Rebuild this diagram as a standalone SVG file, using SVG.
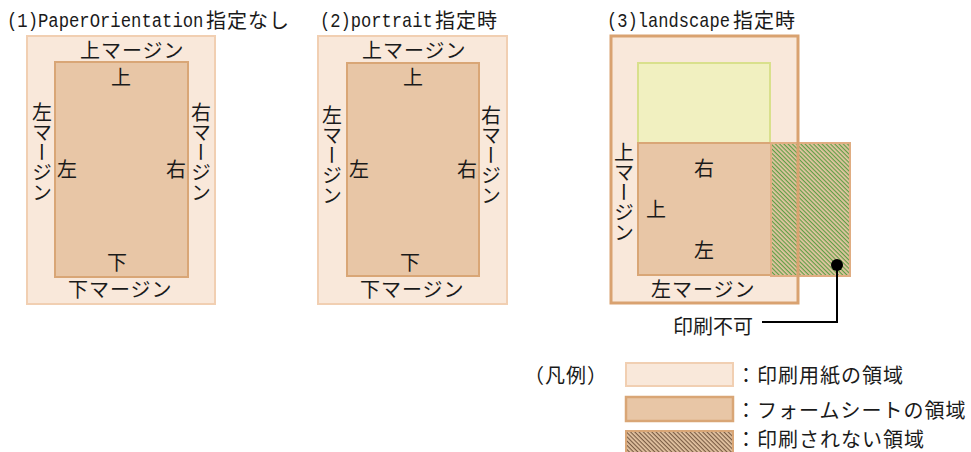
<svg xmlns="http://www.w3.org/2000/svg" width="971" height="452" viewBox="0 0 971 452">
<style>
.t{font-family:"Noto Sans CJK JP","Noto Sans",sans-serif;font-size:20px;letter-spacing:1px;fill:#1a1a1a}
.v{font-family:"Noto Sans CJK JP","Noto Sans",sans-serif;font-size:20px;fill:#1a1a1a;writing-mode:vertical-rl}
.m{font-family:"Liberation Mono","DejaVu Sans Mono",monospace;font-size:20px;fill:#1a1a1a}
.paper{fill:#f9e8da;stroke:#f1cfb2;stroke-width:2}
.form{fill:#e8c6a6;stroke:#d9a676;stroke-width:2}
</style>
<defs>
<pattern id="hg" width="3" height="3" patternUnits="userSpaceOnUse" patternTransform="rotate(45)">
<rect width="3" height="3" fill="#e6c6a4"/>
<rect y="0" width="3" height="1.2" fill="#5f9e45"/>
</pattern>
<pattern id="hb" width="3" height="3" patternUnits="userSpaceOnUse" patternTransform="rotate(45)">
<rect width="3" height="3" fill="#e6c6a4"/>
<rect y="0" width="3" height="1.2" fill="#7a5c44"/>
</pattern>
</defs>

<g id="title1">
<text class="m" transform="translate(7,27) scale(0.862,1)">(1)PaperOrientation</text>
<text class="t" x="206" y="28">指定なし</text>
</g>
<g id="title2">
<text class="m" transform="translate(320,27) scale(0.855,1)">(2)portrait</text>
<text class="t" x="435" y="28">指定時</text>
</g>
<g id="title3">
<text class="m" transform="translate(607,27) scale(0.855,1)">(3)landscape</text>
<text class="t" x="733" y="28">指定時</text>
</g>

<g id="panel1">
<rect class="paper" x="27" y="36" width="188" height="268"/>
<rect class="form" x="55" y="62" width="133" height="215" stroke-width="3"/>
<text class="t" x="80" y="58">上マージン</text>
<text class="t" x="111" y="85">上</text>
<text class="t" x="57" y="177">左</text>
<text class="t" x="166" y="177">右</text>
<text class="t" x="107" y="270">下</text>
<text class="t" x="68" y="297">下マージン</text>
<text class="v" x="42" y="102">左マージン</text>
<text class="v" x="201" y="102">右マージン</text>
</g>

<g id="panel2">
<rect class="paper" x="318" y="36" width="189" height="268"/>
<rect class="form" x="347" y="63" width="132" height="213" stroke-width="1.5"/>
<text class="t" x="362" y="58">上マージン</text>
<text class="t" x="403" y="85">上</text>
<text class="t" x="349" y="177">左</text>
<text class="t" x="457" y="177">右</text>
<text class="t" x="400" y="270">下</text>
<text class="t" x="360" y="297">下マージン</text>
<text class="v" x="332" y="105">左マージン</text>
<text class="v" x="491" y="105">右マージン</text>
</g>

<g id="panel3">
<rect x="611" y="36" width="187" height="267" fill="#f9e8da"/>
<rect x="638" y="63" width="132" height="80" fill="#f1f0c0" stroke="#d9e08c" stroke-width="2"/>
<rect class="form" x="638" y="143" width="133" height="132"/>
<rect x="771" y="143" width="79" height="133" fill="url(#hg)" stroke="#e0ad82" stroke-width="2"/>
<rect x="611" y="36" width="187" height="267" fill="none" stroke="#d9a270" stroke-width="3"/>
<text class="v" x="624" y="142">上マージン</text>
<text class="t" x="694" y="176">右</text>
<text class="t" x="646" y="217">上</text>
<text class="t" x="694" y="258">左</text>
<text class="t" x="651" y="297">左マージン</text>
<circle cx="837" cy="265" r="6" fill="#000"/>
</g>

<g id="label-noprint">
<text class="t" x="673" y="334" style="letter-spacing:0">印刷不可</text>
</g>

<g id="connectors">
<polyline points="837,265 837,322 762,322" fill="none" stroke="#000" stroke-width="2"/>
</g>

<g id="legend">
<text class="t" x="524" y="383">（凡例）</text>
<rect x="626" y="363" width="107" height="23" fill="#f9e8da" stroke="#f1cfb2" stroke-width="2"/>
<text class="t" x="736" y="383">：印刷用紙の領域</text>
<rect x="626" y="397" width="107" height="24" fill="#e8c6a6" stroke="#d9a676" stroke-width="2.5"/>
<text class="t" x="736" y="418">：フォームシートの領域</text>
<rect x="626" y="431" width="107" height="26" fill="url(#hb)" stroke="#d9a676" stroke-width="2"/>
<text class="t" x="736" y="447">：印刷されない領域</text>
</g>
</svg>
